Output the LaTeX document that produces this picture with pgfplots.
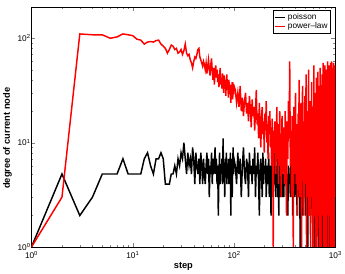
\documentclass[border=0pt]{standalone}
\usepackage{fontspec}
\setmainfont{Liberation Sans}
\usepackage{pgfplots}
\usepackage{pgfplotstable}
\pgfplotsset{compat=1.18}

% degree of the node visited at each step
\pgfplotstableread[row sep=\\]{
x y\\
1 1\\ 2 5\\ 3 2\\ 4 3\\ 5 5\\ 6 5\\ 7 5\\ 8 7\\ 9 5\\ 10 5\\
11 5\\ 12 5\\ 13 7\\ 14 8\\ 15 6\\ 16 5\\ 17 7\\ 18 7\\ 19 8\\ 20 7\\
21 4\\ 22 4\\ 23 4\\ 24 5\\ 25 5\\ 26 6\\ 27 5\\ 28 7\\ 29 6\\ 30 8\\
31 7\\ 32 10\\ 33 7\\ 34 5\\ 35 8\\ 36 6\\ 37 7\\ 38 5\\ 39 9\\ 40 7\\
41 4\\ 42 8\\ 43 6\\ 44 5\\ 45 7\\ 46 4\\ 47 8\\ 48 6\\ 49 4\\ 50 7\\
51 5\\ 52 4\\ 53 6\\ 54 8\\ 55 5\\ 56 7\\ 57 3\\ 58 6\\ 59 5\\ 60 8\\
61 4\\ 62 7\\ 63 5\\ 64 6\\ 65 9\\ 66 5\\ 67 7\\ 68 4\\ 69 6\\ 70 2\\
71 5\\ 72 8\\ 73 4\\ 74 6\\ 75 5\\ 76 7\\ 77 4\\ 78 11\\ 79 5\\ 80 6\\
81 3\\ 82 7\\ 83 5\\ 84 8\\ 85 4\\ 86 6\\ 87 5\\ 88 7\\ 89 4\\ 90 6\\
91 5\\ 92 8\\ 93 2\\ 94 7\\ 95 5\\ 96 3\\ 97 6\\ 98 9\\ 99 5\\ 100 7\\
103 6\\ 106 4\\ 109 8\\ 112 5\\ 115 7\\ 118 3\\ 121 6\\ 124 9\\ 127 5\\ 130 4\\
133 7\\ 136 6\\ 139 3\\ 142 8\\ 145 5\\ 148 6\\ 151 4\\ 154 7\\ 157 5\\ 160 9\\
163 3\\ 166 6\\ 169 5\\ 172 8\\ 175 4\\ 178 2\\ 181 6\\ 184 7\\ 187 5\\ 190 3\\
193 8\\ 196 4\\ 199 6\\ 202 5\\ 205 7\\ 208 3\\ 211 5\\ 214 6\\ 217 4\\ 220 8\\
223 3\\ 226 6\\ 229 5\\ 232 2\\ 235 7\\ 238 4\\ 241 6\\ 244 3\\ 247 5\\ 250 8\\
253 4\\ 256 5\\ 259 3\\ 262 6\\ 265 4\\ 268 7\\ 271 3\\ 274 5\\ 277 2\\ 280 6\\
283 4\\ 286 5\\ 289 3\\ 292 7\\ 295 4\\ 298 5\\ 301 3\\
305 5\\ 310 3\\ 315 6\\ 320 4\\ 325 7\\ 330 3\\ 335 5\\ 340 2\\ 345 6\\ 350 4\\
355 5\\ 360 3\\ 365 8\\ 370 4\\ 375 6\\ 380 2\\ 385 5\\ 390 4\\ 395 7\\ 400 3\\
405 6\\ 410 4\\ 415 5\\ 420 2\\ 425 7\\ 430 3\\ 435 5\\ 440 4\\ 445 6\\ 450 1\\
455 5\\ 460 3\\ 465 6\\ 470 4\\ 475 2\\ 480 7\\ 485 4\\ 490 5\\ 495 3\\ 500 6\\
505 4\\ 510 2\\ 515 5\\ 520 7\\ 525 3\\ 530 5\\ 535 1\\ 540 6\\ 545 4\\ 550 3\\
555 6\\ 560 4\\ 565 2\\ 570 5\\ 575 3\\ 580 7\\ 585 4\\ 590 2\\ 595 5\\ 600 3\\
605 6\\ 610 3\\ 615 5\\ 620 1\\ 625 4\\ 630 6\\ 635 2\\ 640 5\\ 645 3\\ 650 7\\
655 4\\ 660 2\\ 665 5\\ 670 3\\ 675 6\\ 680 4\\ 685 1\\ 690 5\\ 695 3\\ 700 6\\
705 4\\ 710 2\\ 715 6\\ 720 3\\ 725 5\\ 730 4\\ 735 2\\ 740 7\\ 745 3\\ 750 5\\
755 1\\ 760 4\\ 765 6\\ 770 3\\ 775 5\\ 780 2\\ 785 4\\ 790 6\\ 795 3\\ 800 5\\
805 2\\ 810 6\\ 815 4\\ 820 3\\ 825 5\\ 830 1\\ 835 4\\ 840 7\\ 845 3\\ 850 5\\
855 2\\ 860 4\\ 865 6\\ 870 1\\ 875 3\\ 880 5\\ 885 4\\ 890 2\\ 895 6\\ 900 3\\
905 5\\ 910 2\\ 915 4\\ 920 6\\ 925 3\\ 930 1\\ 935 5\\ 940 4\\ 945 2\\ 950 6\\
955 3\\ 960 5\\ 965 2\\ 970 4\\ 975 1\\ 980 6\\ 985 3\\ 990 5\\ 995 2\\ 1000 4\\
}\poisson

\pgfplotstableread[row sep=\\]{
x y\\
1 1\\ 2 3\\ 3 110\\ 4 108\\ 5 108\\ 6 100\\ 7 103\\ 8 110\\ 9 108\\ 10 106\\
11 98\\ 12 96\\ 13 88\\ 14 92\\ 15 93\\ 16 92\\ 17 95\\ 18 96\\ 19 88\\ 20 84\\
21 80\\ 22 72\\ 23 78\\ 24 86\\ 25 84\\ 26 78\\ 27 80\\ 28 72\\ 29 74\\ 30 78\\
31 70\\ 32 76\\ 33 88\\ 34 72\\ 35 68\\ 36 70\\ 37 62\\ 38 58\\ 39 52\\ 40 60\\
41 66\\ 42 64\\ 43 70\\ 44 78\\ 45 80\\ 46 66\\ 47 62\\ 48 58\\ 49 54\\ 50 60\\
51 56\\ 52 50\\ 53 58\\ 54 46\\ 55 54\\ 56 62\\ 57 50\\ 58 44\\ 59 56\\ 60 64\\
61 48\\ 62 40\\ 63 52\\ 64 36\\ 65 48\\ 66 55\\ 67 42\\ 68 50\\ 69 38\\ 70 45\\
71 34\\ 72 44\\ 73 52\\ 74 36\\ 75 42\\ 76 33\\ 77 46\\ 78 38\\ 79 30\\ 80 44\\
81 35\\ 82 40\\ 83 28\\ 84 38\\ 85 45\\ 86 32\\ 87 36\\ 88 27\\ 89 40\\ 90 33\\
91 29\\ 92 36\\ 93 24\\ 94 34\\ 95 30\\ 96 38\\ 97 26\\ 98 33\\ 99 29\\ 100 35\\
103 32\\ 106 24\\ 109 30\\ 112 22\\ 115 35\\ 118 20\\ 121 27\\ 124 18\\ 127 25\\ 130 30\\
133 19\\ 136 24\\ 139 16\\ 142 28\\ 145 21\\ 148 14\\ 151 26\\ 154 18\\ 157 22\\ 160 13\\
163 20\\ 166 32\\ 169 15\\ 172 19\\ 175 11\\ 178 24\\ 181 14\\ 184 9\\ 187 18\\ 190 22\\
193 12\\ 196 16\\ 199 8\\ 202 19\\ 205 13\\ 208 25\\ 211 10\\ 214 15\\ 217 7\\ 220 18\\
223 12\\ 226 20\\ 229 9\\ 232 14\\ 235 6\\ 238 17\\ 241 11\\ 244 1\\ 247 13\\ 250 8\\
253 16\\ 256 10\\ 259 5\\ 262 12\\ 265 22\\ 268 7\\ 271 11\\ 274 4\\ 277 15\\ 280 9\\
283 20\\ 286 6\\ 289 12\\ 292 3\\ 295 10\\ 298 18\\ 301 5\\
305 8\\ 310 14\\ 315 4\\ 320 20\\ 325 9\\ 330 2\\ 335 16\\ 340 7\\ 345 25\\ 350 11\\
355 60\\ 360 6\\ 365 13\\ 370 3\\ 375 18\\ 380 9\\ 385 1\\ 390 22\\ 395 5\\ 400 12\\
405 30\\ 410 4\\ 415 15\\ 420 8\\ 425 2\\ 430 19\\ 435 10\\ 440 40\\ 445 3\\ 450 13\\
455 6\\ 460 24\\ 465 1\\ 470 11\\ 475 35\\ 480 5\\ 485 16\\ 490 2\\ 495 9\\ 500 28\\
505 4\\ 510 14\\ 515 45\\ 520 1\\ 525 7\\ 530 20\\ 535 3\\ 540 12\\ 545 50\\ 550 2\\
555 10\\ 560 25\\ 565 5\\ 570 1\\ 575 18\\ 580 8\\ 585 38\\ 590 3\\ 595 14\\ 600 1\\
605 22\\ 610 6\\ 615 55\\ 620 2\\ 625 11\\ 630 30\\ 635 1\\ 640 17\\ 645 4\\ 650 42\\
655 9\\ 660 1\\ 665 26\\ 670 5\\ 675 48\\ 680 2\\ 685 13\\ 690 35\\ 695 1\\ 700 20\\
705 7\\ 710 52\\ 715 3\\ 720 15\\ 725 1\\ 730 33\\ 735 10\\ 740 45\\ 745 2\\ 750 24\\
755 6\\ 760 58\\ 765 1\\ 770 18\\ 775 40\\ 780 4\\ 785 12\\ 790 55\\ 795 1\\ 800 28\\
805 8\\ 810 50\\ 815 3\\ 820 21\\ 825 1\\ 830 45\\ 835 14\\ 840 60\\ 845 2\\ 850 30\\
855 5\\ 860 38\\ 865 1\\ 870 55\\ 875 11\\ 880 25\\ 885 2\\ 890 48\\ 895 7\\ 900 58\\
905 1\\ 910 33\\ 915 15\\ 920 60\\ 925 3\\ 930 42\\ 935 1\\ 940 22\\ 945 52\\ 950 6\\
955 45\\ 960 2\\ 965 58\\ 970 18\\ 975 1\\ 980 50\\ 985 10\\ 990 35\\ 995 3\\ 1000 55\\
}\powerlaw

\begin{document}
\begin{tikzpicture}
\begin{axis}[
    scale only axis,
    width=310bp, height=245bp,
    xmode=log, ymode=log,
    xmin=1, xmax=1000, ymin=1, ymax=200,
    xtick={1,10,100,1000},
    xticklabels={10\textsuperscript{0},10\textsuperscript{1},10\textsuperscript{2},10\textsuperscript{3}},
    ytick={1,10,100},
    yticklabels={10\textsuperscript{0},10\textsuperscript{1},10\textsuperscript{2}},
    tick label style={font=\fontsize{8.5}{9}\selectfont},
    xticklabel style={yshift=-1bp},
    yticklabel style={xshift=2.5bp},
    major tick length=4bp, minor tick length=2bp,
    axis line style={line width=0.6pt},
    xlabel={\bfseries step},
    ylabel={\bfseries degree of current node},
    label style={font=\fontsize{9.5}{10}\selectfont},
    xlabel style={at={(axis description cs:0.5,-0.05)},anchor=north},
    ylabel style={at={(axis description cs:-0.053,0.453)},anchor=south},
    legend style={at={(0.985,0.985)},anchor=north east,
        font=\fontsize{8.5}{9}\selectfont,draw=black,
        inner sep=1pt,row sep=-2.5pt},
    legend cell align=left,
    legend image code/.code={\draw[#1,line width=1.5pt] (0cm,0cm) -- (0.38cm,0cm);},
]
\addplot[black,line width=1.5pt] table {\poisson};
\addplot[red,line width=1.5pt] table {\powerlaw};
\legend{poisson,power--law}
\end{axis}
\path ([xshift=8bp,yshift=7bp]current axis.north east);
\end{tikzpicture}
\end{document}
